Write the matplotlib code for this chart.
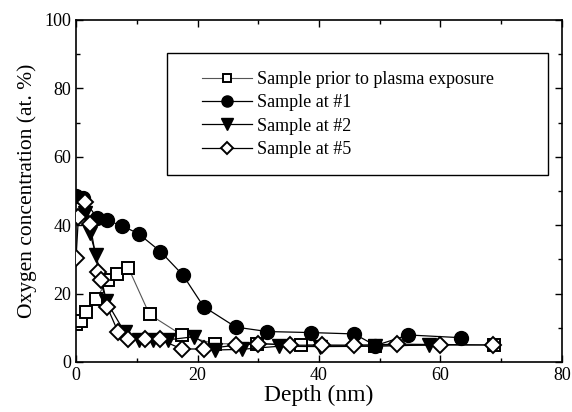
import matplotlib
matplotlib.use("Agg")
import matplotlib.pyplot as plt
from matplotlib.ticker import MultipleLocator
from matplotlib.patches import Rectangle

plt.rcParams['font.family'] = ['Liberation Serif', 'DejaVu Serif']
plt.rcParams['mathtext.fontset'] = 'stix'

# Sample prior to plasma exposure (open squares)
prior_x = [0, 0.8, 1.6, 3.3, 5.2, 6.8, 8.6, 12.1, 17.4, 22.9, 29.8, 37.0, 49.3, 68.8]
prior_y = [11.1, 12.0, 14.6, 18.4, 24.0, 25.7, 27.6, 13.9, 7.9, 5.3, 5.4, 5.0, 4.8, 4.9]

# Sample at #1 (filled circles)
s1_x = [0, 1.2, 3.4, 5.1, 7.6, 10.3, 13.9, 17.6, 21.0, 26.3, 31.5, 38.7, 45.8, 49.3, 54.7, 63.4]
s1_y = [48.5, 48.0, 42.2, 41.4, 39.8, 37.5, 32.3, 25.4, 16.2, 10.2, 8.9, 8.6, 8.2, 4.8, 7.9, 7.1]

# Sample at #2 (filled down triangles)
s2_x = [1.5, 2.3, 3.3, 5.0, 8.0, 10.3, 12.7, 15.2, 19.5, 22.8, 27.3, 33.4, 40.2, 49.3, 58.1]
s2_y = [43.5, 37.6, 31.3, 17.8, 8.7, 6.5, 6.5, 6.5, 7.4, 3.5, 3.7, 4.6, 4.5, 4.6, 5.0]

# Sample at #5 (open diamonds)
s5_x = [0, 0.4, 1.5, 2.3, 3.7, 4.1, 5.1, 6.9, 8.6, 11.4, 13.8, 17.4, 21.0, 26.3, 29.9,
        35.2, 40.5, 45.8, 52.9, 60.0, 68.7]
s5_y = [30.3, 42.5, 46.9, 40.4, 26.2, 23.9, 16.2, 8.9, 6.8, 6.6, 6.6, 3.8, 3.8, 4.9, 5.4,
        4.9, 4.9, 4.9, 5.2, 5.1, 5.0]

labels = ["Sample prior to plasma exposure", "Sample at #1", "Sample at #2", "Sample at #5"]

fig = plt.figure(figsize=(5.72, 4.12), dpi=100)
ax = fig.add_axes([0.1329, 0.1214, 0.8496, 0.8301])

ax.plot(prior_x, prior_y, color='#555555', lw=0.8, marker='s', ms=8, mfc='white',
        mec='black', mew=1.4, label=labels[0], zorder=2)
ax.plot(s1_x, s1_y, color='black', lw=0.9, marker='o', ms=10, mfc='black',
        mec='black', label=labels[1], zorder=3)
ax.plot(s2_x, s2_y, color='black', lw=0.9, marker='v', ms=10, mfc='black',
        mec='black', label=labels[2], zorder=3.5)
ax.plot(s5_x, s5_y, color='black', lw=0.9, marker='D', ms=8, mfc='white',
        mec='black', mew=1.4, label=labels[3], zorder=5)

ax.set_xlim(0, 80)
ax.set_ylim(0, 100)
ax.xaxis.set_major_locator(MultipleLocator(20))
ax.xaxis.set_minor_locator(MultipleLocator(10))
ax.yaxis.set_major_locator(MultipleLocator(20))
ax.yaxis.set_minor_locator(MultipleLocator(10))
ax.tick_params(which='both', direction='in', top=True, right=True, labelsize=13, width=1)
ax.tick_params(which='major', length=5)
ax.tick_params(which='minor', length=3)
for s in ax.spines.values():
    s.set_linewidth(1.2)

ax.set_xlabel("Depth (nm)", fontsize=17, labelpad=1)
ax.set_ylabel("Oxygen concentration (at. %)", fontsize=15.5, labelpad=5)

# legend frame drawn separately to match the reference's box
ax.add_patch(Rectangle((0.1872, 0.5468), 0.971 - 0.1872, 0.9035 - 0.5468,
                       transform=ax.transAxes, facecolor='white', edgecolor='black',
                       lw=1.0, zorder=6))
leg = ax.legend(loc='upper left', bbox_to_anchor=(0.2593, 0.851), fontsize=13,
                frameon=False, borderpad=0, handlelength=2.75, handletextpad=0.3,
                labelspacing=0.35, borderaxespad=0, markerscale=0.8)
leg.set_zorder(7)

fig.savefig("out.png", dpi=100)
